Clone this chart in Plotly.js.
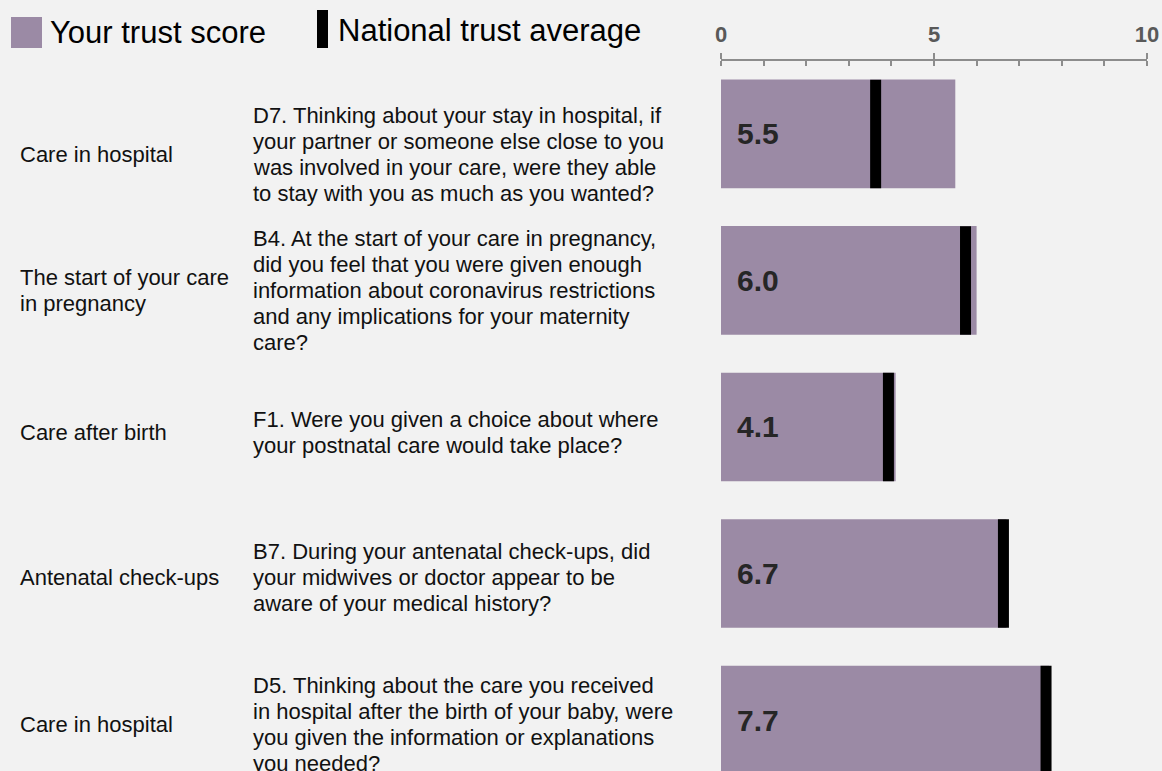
<!DOCTYPE html>
<html>
<head>
<meta charset="utf-8">
<script src="https://cdn.plot.ly/plotly-3.0.1.min.js"></script>
<style>
  html, body { margin: 0; padding: 0; background: #f2f2f2; }
  #chart { width: 1162px; height: 771px; }
</style>
</head>
<body>
<div id="chart"></div>
<script>
// ---- data ----
const codes = ["D7", "B4", "F1", "B7", "D5"];
const sections = [
  ["Care in hospital"],
  ["The start of your care", "in pregnancy"],
  ["Care after birth"],
  ["Antenatal check-ups"],
  ["Care in hospital"]
];
const questions = [
  ["D7. Thinking about your stay in hospital, if", "your partner or someone else close to you", "was involved in your care, were they able", "to stay with you as much as you wanted?"],
  ["B4. At the start of your care in pregnancy,", "did you feel that you were given enough", "information about coronavirus restrictions", "and any implications for your maternity", "care?"],
  ["F1. Were you given a choice about where", "your postnatal care would take place?"],
  ["B7. During your antenatal check-ups, did", "your midwives or doctor appear to be", "aware of your medical history?"],
  ["D5. Thinking about the care you received", "in hospital after the birth of your baby, were", "you given the information or explanations", "you needed?"]
];
const trustScores = [5.5, 6.0, 4.1, 6.7, 7.7];
const nationalAverages = [3.63, 5.74, 3.93, 6.63, 7.63];
const tickValues = [0, 5, 10];
const tickLabels = ["0", "5", "10"];
const legendLabels = ["Your trust score", "National trust average"];

// ---- styling / layout helpers ----
const FONT = "'Liberation Sans', Arial, sans-serif";
const BAR_COLOR = "#9b8aa5";
const BG = "#f2f2f2";
const W = 1162, H = 771;
const M = { l: 721, r: 15, t: 61, b: 0 };
const PW = W - M.l - M.r, PH = H - M.t - M.b;
const px = x => (x - M.l) / PW;
const py = y => 1 - (y - M.t) / PH;
const rowTextShift = [21, 10, 6, 4, 4];   // vertical offset of the text block vs bar centre (px)
const LINE = 26;

const traces = [
  {
    type: "bar",
    orientation: "h",
    x: trustScores,
    y: codes,
    marker: { color: BAR_COLOR, line: { width: 0 } },
    hoverinfo: "x",
    showlegend: false
  },
  {
    type: "scatter",
    mode: "markers",
    x: nationalAverages,
    y: codes,
    xaxis: "x2",
    marker: { symbol: "line-ns", size: 77.5, color: "#000", line: { color: "#000", width: 11 } },
    hoverinfo: "x",
    showlegend: false
  }
];

const annotations = [];
// value labels
codes.forEach((c, i) => {
  annotations.push({
    x: 0, y: c, xref: "x", yref: "y", xanchor: "left", yanchor: "middle",
    xshift: 14, text: trustScores[i].toFixed(1), showarrow: false,
    font: { family: FONT, size: 30, color: "#262626", weight: "bold" }
  });
});
// section labels and questions, line by line
codes.forEach((c, i) => {
  const add = (lines, xpx) => {
    const n = lines.length;
    lines.forEach((t, j) => {
      annotations.push({
        x: px(xpx), y: c, xref: "paper", yref: "y", xanchor: "left", yanchor: "middle",
        yshift: -(rowTextShift[i] + (j - (n - 1) / 2) * LINE),
        text: t, showarrow: false,
        font: { family: FONT, size: 22, color: "#111" }
      });
    });
  };
  add(sections[i], 18);
  add(questions[i], 251);
});
// legend texts
annotations.push({
  x: px(48), y: py(32), xref: "paper", yref: "paper", xanchor: "left", yanchor: "middle",
  text: legendLabels[0], showarrow: false, font: { family: FONT, size: 31, color: "#000" }
});
annotations.push({
  x: px(336), y: py(30), xref: "paper", yref: "paper", xanchor: "left", yanchor: "middle",
  text: legendLabels[1], showarrow: false, font: { family: FONT, size: 31, color: "#000" }
});

const shapes = [
  { type: "rect", xref: "paper", yref: "paper", x0: px(11), x1: px(42), y0: py(17), y1: py(48),
    fillcolor: BAR_COLOR, line: { width: 0 } },
  { type: "rect", xref: "paper", yref: "paper", x0: px(317), x1: px(328), y0: py(10), y1: py(48),
    fillcolor: "#000", line: { width: 0 } }
];

const axisGray = "#8c8c8c";
const layout = {
  width: W, height: H,
  margin: M,
  paper_bgcolor: BG, plot_bgcolor: BG,
  font: { family: FONT },
  bargap: 0.258,
  xaxis: {
    side: "top", range: [0, 10], fixedrange: true,
    tickmode: "array", tickvals: tickValues, ticktext: tickLabels,
    ticks: "outside", ticklen: 6, tickwidth: 2, tickcolor: axisGray,
    showline: true, linecolor: axisGray, linewidth: 2,
    showgrid: false, zeroline: false,
    tickfont: { family: FONT, size: 22, color: "#595959", weight: "bold" },
    ticklabelstandoff: 2,
    minor: { dtick: 1, ticks: "inside", ticklen: 5, tickwidth: 2, tickcolor: axisGray, showgrid: false }
  },
  xaxis2: {
    overlaying: "x", side: "top", range: [0, 10], fixedrange: true,
    tickmode: "array", tickvals: tickValues, ticks: "inside", ticklen: 5, tickwidth: 2, tickcolor: axisGray,
    showticklabels: false, showline: false, showgrid: false, zeroline: false
  },
  yaxis: {
    type: "category", range: [4.348, -0.498], fixedrange: true,
    showticklabels: false, ticks: "", showgrid: false, zeroline: false, showline: false
  },
  annotations: annotations,
  shapes: shapes,
  showlegend: false
};

Plotly.newPlot("chart", traces, layout, { displayModeBar: false, staticPlot: true });
</script>
</body>
</html>
